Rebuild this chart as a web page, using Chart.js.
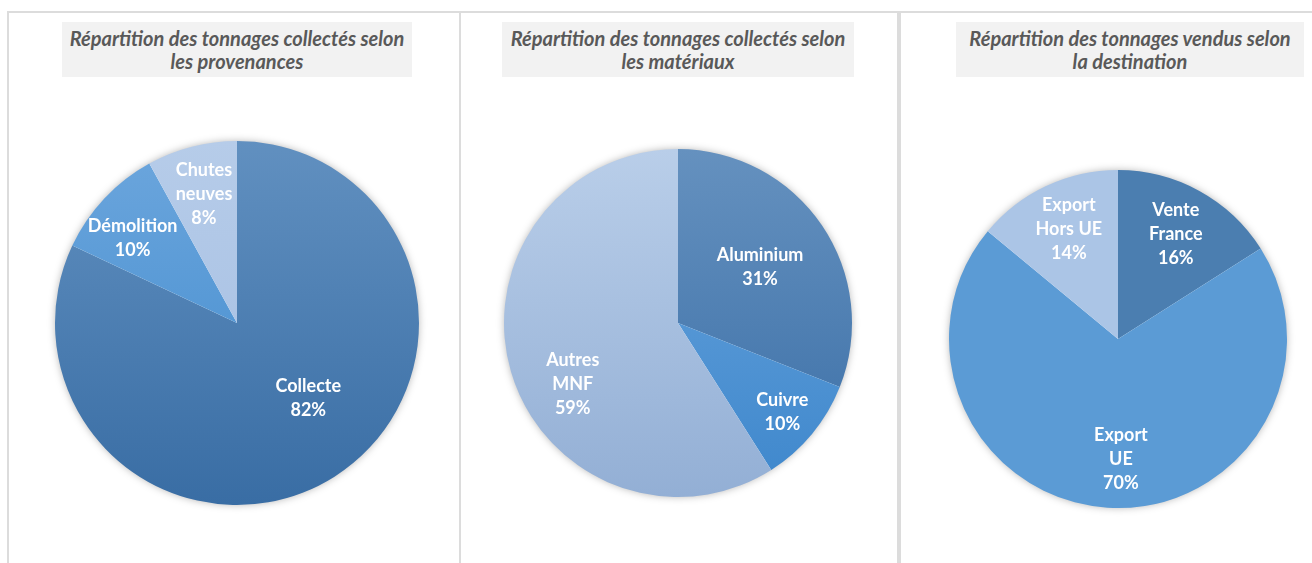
<!DOCTYPE html>
<html lang="fr">
<head>
<meta charset="utf-8">
<script src="https://cdn.jsdelivr.net/npm/chart.js@4.4.1/dist/chart.umd.min.js"></script>
<style>
  body { margin: 0; background: #fff; width: 1312px; height: 563px; overflow: hidden; position: relative; }
  .panel { position: absolute; top: 11px; height: 620px; border: 2px solid #dcdcdc; box-sizing: border-box; }
  .title { position: absolute; top: 22px; height: 55px; background: #f2f2f2; color: #595959;
           font: italic bold 20px Lato, "Liberation Sans", sans-serif; line-height: 23px; white-space: nowrap;
           text-align: center; display: flex; align-items: center; justify-content: center; }
  canvas { position: absolute; }
</style>
</head>
<body>
<div class="panel" style="left:7px;width:454px"></div>
<div class="panel" style="left:459px;width:440px"></div>
<div class="panel" style="left:899px;width:430px"></div>

<div class="title" style="left:62px;width:350px">Répartition des tonnages collectés selon<br>les provenances</div>
<div class="title" style="left:502px;width:352px">Répartition des tonnages collectés selon<br>les matériaux</div>
<div class="title" style="left:956px;width:348px">Répartition des tonnages vendus selon<br>la destination</div>

<canvas id="pie1" width="392" height="392" style="left:41px;top:127px"></canvas>
<canvas id="pie2" width="376" height="376" style="left:490px;top:135px"></canvas>
<canvas id="pie3" width="366" height="366" style="left:935px;top:156px"></canvas>

<script>
// Data (percent of tonnage)
const provenanceLabels = ['Collecte', 'Démolition', ['Chutes', 'neuves']];
const provenanceValues = [82, 10, 8];

const materiauLabels = ['Aluminium', 'Cuivre', ['Autres', 'MNF']];
const materiauValues = [31, 10, 59];

const destinationLabels = [['Vente', 'France'], ['Export', 'UE'], ['Export', 'Hors UE']];
const destinationValues = [16, 70, 14];

// colours: [top, bottom] of each slice's vertical gradient
const provenanceColors = [['#6190c0', '#396da4'], ['#6ca6dd', '#3f8acd'], ['#b6cce9', '#a3bde2']];
const materiauColors = [['#6591bf', '#3a6ea6'], ['#6aa5dd', '#3e87cc'], ['#b9cee9', '#93afd5']];
const destinationColors = [['#4b7eb0', '#4b7eb0'], ['#5b9bd5', '#5b9bd5'], ['#abc5e6', '#abc5e6']];

// soft shadow under the pie
const pieShadow = {
    id: 'pieShadow',
    beforeDatasetsDraw(chart) {
        const arc = chart.getDatasetMeta(0).data[0];
        if (!arc) return;
        const ctx = chart.ctx;
        ctx.save();
        ctx.shadowColor = 'rgba(0,0,0,0.35)';
        ctx.shadowBlur = 9;
        ctx.fillStyle = '#fff';
        ctx.beginPath();
        ctx.arc(arc.x, arc.y, arc.outerRadius - 1, 0, Math.PI * 2);
        ctx.fill();
        ctx.restore();
    }
};

// white label + percentage inside each slice
const sliceLabels = {
    id: 'sliceLabels',
    afterDatasetsDraw(chart, args, opts) {
        const ctx = chart.ctx;
        const values = chart.data.datasets[0].data;
        const total = values.reduce((a, b) => a + b, 0);
        chart.getDatasetMeta(0).data.forEach((arc, i) => {
            const mid = (arc.startAngle + arc.endAngle) / 2 + (opts.shift[i] || 0) * Math.PI / 180;
            const r = arc.outerRadius * opts.radius[i];
            const px = arc.x + Math.cos(mid) * r;
            const py = arc.y + Math.sin(mid) * r;
            const name = chart.data.labels[i];
            const lines = (Array.isArray(name) ? name : [name]).concat(Math.round(values[i] / total * 100) + '%');
            ctx.save();
            ctx.font = 'bold 18px Lato, "Liberation Sans", sans-serif';
            ctx.fillStyle = '#ffffff';
            ctx.textAlign = 'center';
            ctx.textBaseline = 'middle';
            const lh = 24;
            lines.forEach((t, k) => {
                ctx.fillText(t, px, py + (k - (lines.length - 1) / 2) * lh);
            });
            ctx.restore();
        });
    }
};

function gradientFill(colors) {
    return (context) => {
        const area = context.chart.chartArea;
        if (!area) return colors[context.dataIndex][0];
        const g = context.chart.ctx.createLinearGradient(0, area.top, 0, area.bottom);
        g.addColorStop(0, colors[context.dataIndex][0]);
        g.addColorStop(1, colors[context.dataIndex][1]);
        return g;
    };
}

function makePie(id, labels, values, colors, radius, shift) {
    const ctx = document.getElementById(id).getContext('2d');
    return new Chart(ctx, {
        type: 'pie',
        data: {
            labels: labels,
            datasets: [{
                data: values,
                backgroundColor: gradientFill(colors),
                borderWidth: 0
            }]
        },
        options: {
            responsive: false,
            animation: false,
            layout: { padding: 14 },
            plugins: {
                legend: { display: false },
                tooltip: { enabled: false },
                sliceLabels: { radius: radius, shift: shift }
            }
        },
        plugins: [pieShadow, sliceLabels]
    });
}

makePie('pie1', provenanceLabels, provenanceValues, provenanceColors, [0.57, 0.74, 0.73], [-11, -4, 0]);
makePie('pie2', materiauLabels, materiauValues, materiauColors, [0.57, 0.79, 0.70], [0, 1, -14]);
makePie('pie3', destinationLabels, destinationValues, destinationColors, [0.71, 0.71, 0.71], [0, -5, 1]);
</script>
</body>
</html>
